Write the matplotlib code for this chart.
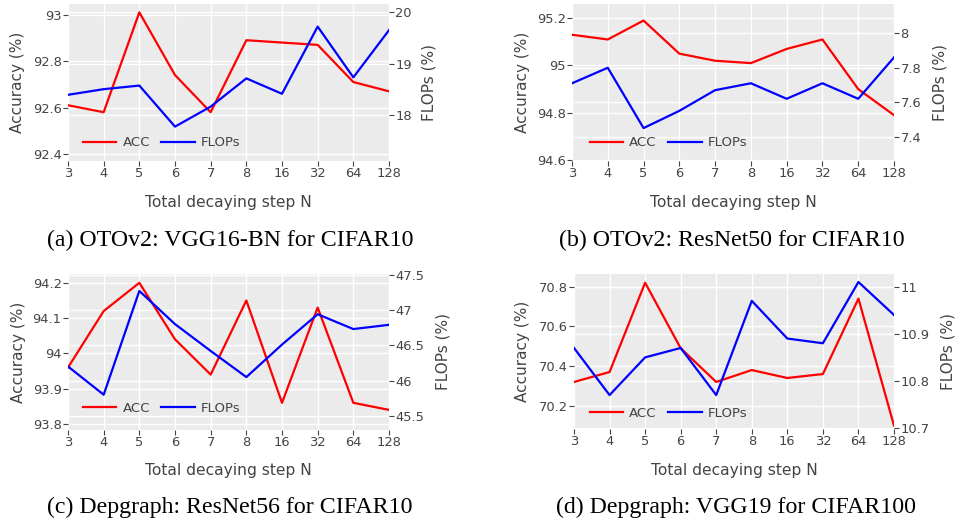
import numpy as np
import matplotlib.pyplot as plt
from matplotlib.ticker import FuncFormatter

# decaying steps (categorical x axis)
steps = ["3", "4", "5", "6", "7", "8", "16", "32", "64", "128"]

acc_vgg16 = [92.61, 92.58, 93.01, 92.74, 92.58, 92.89, 92.88, 92.87, 92.71, 92.67]
flops_vgg16 = [18.39, 18.50, 18.57, 17.77, 18.16, 18.71, 18.41, 19.72, 18.73, 19.65]

acc_resnet50 = [95.13, 95.11, 95.19, 95.05, 95.02, 95.01, 95.07, 95.11, 94.90, 94.79]
flops_resnet50 = [7.71, 7.80, 7.45, 7.55, 7.67, 7.71, 7.62, 7.71, 7.62, 7.86]

acc_resnet56 = [93.96, 94.12, 94.20, 94.04, 93.94, 94.15, 93.86, 94.13, 93.86, 93.84]
flops_resnet56 = [46.20, 45.80, 47.27, 46.80, 46.42, 46.05, 46.51, 46.94, 46.73, 46.79]

acc_vgg19 = [70.32, 70.37, 70.82, 70.49, 70.32, 70.38, 70.34, 70.36, 70.74, 70.10]
flops_vgg19 = [10.87, 10.77, 10.85, 10.87, 10.77, 10.97, 10.89, 10.88, 11.01, 10.94]

captions = ["(a) OTOv2: VGG16-BN for CIFAR10",
            "(b) OTOv2: ResNet50 for CIFAR10",
            "(c) Depgraph: ResNet56 for CIFAR10",
            "(d) Depgraph: VGG19 for CIFAR100"]

W, H = 956, 529
BG = '#ebebeb'
TXT = '#444444'

# layout in pixels: (left, top, right, bottom), y ranges, ticks, label x centers, legend anchor, caption center
panels = [
    dict(acc=acc_vgg16, flops=flops_vgg16, box=(68, 4, 389, 161),
         ylim=(92.37, 93.046), y2lim=(17.10, 20.16),
         yt=[92.4, 92.6, 92.8, 93], y2t=[18, 19, 20],
         lx=18, rx=429, leg=(0.047, 0.115), cap=(230, 240)),
    dict(acc=acc_resnet50, flops=flops_resnet50, box=(572, 4, 894, 161),
         ylim=(94.596, 95.26), y2lim=(7.259, 8.17),
         yt=[94.6, 94.8, 95, 95.2], y2t=[7.4, 7.6, 7.8, 8],
         lx=523, rx=940, leg=(0.056, 0.115), cap=(732, 240)),
    dict(acc=acc_resnet56, flops=flops_resnet56, box=(68, 274, 389, 430),
         ylim=(93.783, 94.225), y2lim=(45.30, 47.51),
         yt=[93.8, 93.9, 94, 94.1, 94.2], y2t=[45.5, 46, 46.5, 47, 47.5],
         lx=19, rx=443, leg=(0.047, 0.14), cap=(230, 507)),
    dict(acc=acc_vgg19, flops=flops_vgg19, box=(574, 274, 894, 429),
         ylim=(70.083, 70.864), y2lim=(10.698, 11.027),
         yt=[70.2, 70.4, 70.6, 70.8], y2t=[10.7, 10.8, 10.9, 11],
         lx=523, rx=948, leg=(0.05, 0.10), cap=(736, 507)),
]

fmt = FuncFormatter(lambda v, p: '%g' % round(v, 3))

fig = plt.figure(figsize=(W / 100, H / 100), dpi=100)
x = np.arange(len(steps))

for i, p in enumerate(panels):
    l, t, r, b = p['box']
    rect = [l / W, (H - b) / H, (r - l) / W, (b - t) / H]
    ax2 = fig.add_axes(rect)
    ax2.yaxis.tick_right()
    ax = fig.add_axes(rect, sharex=ax2)
    ax.patch.set_visible(False)
    ax2.set_facecolor(BG)

    for a in (ax, ax2):
        for s in a.spines.values():
            s.set_visible(False)
        a.tick_params(colors=TXT, labelsize=9.4, length=3.6, width=0.8, pad=1)
        a.yaxis.set_major_formatter(fmt)

    ax2.grid(True, axis='y', color='white', lw=1.0)
    ax2.grid(True, axis='x', color='white', lw=1.0)
    ax.grid(True, axis='y', color='white', lw=1.0)
    ax.set_axisbelow(True)
    ax2.set_axisbelow(True)

    ax.set_xlim(0, len(steps) - 1)
    ax.set_xticks(x)
    ax.set_xticklabels(steps)
    ax2.tick_params(axis='x', labelbottom=False, length=0)
    ax.set_ylim(*p['ylim'])
    ax.set_yticks(p['yt'])
    ax2.set_ylim(*p['y2lim'])
    ax2.set_yticks(p['y2t'])

    ax.plot(x, p['acc'], color='red', lw=1.6, label='ACC', zorder=3)
    ax.plot(x, p['flops'], color='blue', lw=1.6, label='FLOPs', zorder=3,
            transform=ax2.transData)

    ax.legend(loc='center left', bbox_to_anchor=p['leg'], ncol=2, frameon=False,
              fontsize=9.6, handlelength=2.5, handletextpad=0.45,
              columnspacing=0.85, borderpad=0, borderaxespad=0, labelcolor=TXT)

    wpx, hpx = r - l, b - t
    ax.set_xlabel('Total decaying step N', color=TXT, fontsize=11.2, va='center')
    ax.xaxis.set_label_coords(0.5, -41 / hpx)
    ax.set_ylabel('Accuracy (%)', color=TXT, fontsize=11, va='center')
    ax.yaxis.set_label_coords((p['lx'] - l) / wpx, 0.5)
    ax2.set_ylabel('FLOPs (%)', color=TXT, fontsize=11, va='center')
    ax2.yaxis.set_label_position('right')
    ax2.yaxis.label.set_va('center')
    ax2.yaxis.set_label_coords((p['rx'] - l) / wpx, 0.5)

    cx, cy = p['cap']
    fig.text(cx / W, 1 - cy / H, captions[i], ha='center', va='center',
             family='Liberation Serif', fontsize=17.2, color='black')

fig.savefig('out.png', dpi=100)
